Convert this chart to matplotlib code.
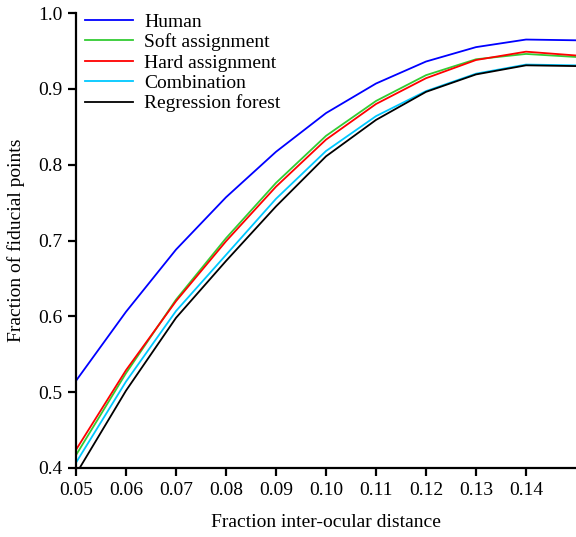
import matplotlib
matplotlib.use("Agg")
import matplotlib.pyplot as plt
import numpy as np

plt.rcParams['font.family'] = ['Liberation Serif', 'DejaVu Serif']

x = [0.05, 0.06, 0.07, 0.08, 0.09, 0.10, 0.11, 0.12, 0.13, 0.14, 0.15]
human = [0.515, 0.606, 0.688, 0.757, 0.817, 0.868, 0.907, 0.936, 0.955, 0.965, 0.964]
soft = [0.417, 0.525, 0.622, 0.703, 0.776, 0.838, 0.884, 0.918, 0.939, 0.946, 0.942]
hard = [0.424, 0.529, 0.620, 0.699, 0.771, 0.833, 0.880, 0.914, 0.938, 0.949, 0.944]
comb = [0.407, 0.514, 0.607, 0.681, 0.755, 0.818, 0.864, 0.897, 0.920, 0.932, 0.931]
forest = [0.392, 0.502, 0.598, 0.673, 0.745, 0.811, 0.859, 0.896, 0.919, 0.931, 0.930]

series = [
    ("Human", human, "#0000ff"),
    ("Soft assignment", soft, "#33cc33"),
    ("Hard assignment", hard, "#ff0000"),
    ("Combination", comb, "#00c8ff"),
    ("Regression forest", forest, "#000000"),
]

fig = plt.figure(figsize=(5.76, 5.37), dpi=100)
ax = fig.add_axes([76/576, 1-468/537, 1-76/576, (468-13)/537])

for name, ys, c in series:
    ax.plot(x, ys, color=c, lw=1.3, label=name)

ax.set_xlim(0.05, 0.15)
ax.set_ylim(0.4, 1.0)
ax.set_xticks([0.05, 0.06, 0.07, 0.08, 0.09, 0.10, 0.11, 0.12, 0.13, 0.14])
ax.set_xticklabels(["0.05", "0.06", "0.07", "0.08", "0.09", "0.10", "0.11", "0.12", "0.13", "0.14"])
ax.set_yticks([0.4, 0.5, 0.6, 0.7, 0.8, 0.9, 1.0])
ax.set_yticklabels(["0.4", "0.5", "0.6", "0.7", "0.8", "0.9", "1.0"])

for s in ["top", "right"]:
    ax.spines[s].set_visible(False)
for s in ["left", "bottom"]:
    ax.spines[s].set_linewidth(1.6)
ax.tick_params(axis="both", which="major", direction="out", length=6, width=1.6,
               labelsize=14, pad=4)
ax.set_xlabel("Fraction inter-ocular distance", fontsize=14, labelpad=11)
ax.set_ylabel("Fraction of fiducial points", fontsize=14, labelpad=9)

ax.legend(loc="upper left", bbox_to_anchor=(-0.01, 1.03), frameon=False, fontsize=14,
          handlelength=2.5, handletextpad=0.55, labelspacing=0.14, borderaxespad=0.3)

fig.savefig("out.png", dpi=100)
